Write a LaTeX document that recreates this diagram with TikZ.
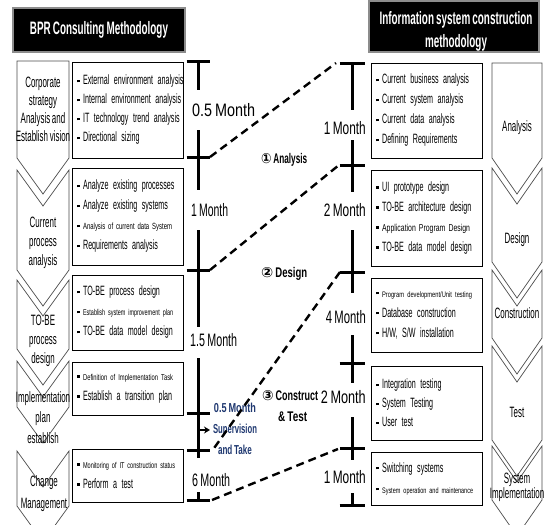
\documentclass[tikz,border=0pt]{standalone}
\usepackage{fontspec}
\usepackage{graphicx}
\setmainfont{Liberation Sans}[FakeStretch=0.53, WordSpace=0.75]
\newfontfamily\plainfont{Liberation Sans}
\newfontfamily\symfont{DejaVu Sans}[FakeStretch=0.8]
\usetikzlibrary{arrows.meta}
\definecolor{notenavy}{RGB}{31,56,112}
\hyphenpenalty=10000
\exhyphenpenalty=10000

% scale a piece of text horizontally to a given width (in pt)
\newcommand\fitw[2]{\resizebox{#1pt}{\height}{#2}}
% one bulleted line that never wraps
\newcommand\li[1]{\mbox{\raisebox{2.6pt}{\rule{2.6pt}{2.6pt}}\hspace{3.5pt}#1}}
% small, horizontally fitted text: width, size, text
\newcommand\smln[3]{\fitw{#1}{\plainfont\fontsize{#2}{#2}\selectfont #3}}
% chevron with a notched top: xl, xr, ytop, ybottom, depth
\newcommand\chevpath[5]{%
  \draw[chev] (#1,#3) -- ({(#1+#2)/2},{#3+#5}) -- (#2,#3) -- (#2,#4)
    -- ({(#1+#2)/2},{#4+#5}) -- (#1,#4) -- cycle;}
% chevron with a flat top
\newcommand\chevflat[5]{%
  \draw[chev] (#1,#3) -- (#2,#3) -- (#2,#4)
    -- ({(#1+#2)/2},{#4+#5}) -- (#1,#4) -- cycle;}

\begin{document}
\begin{tikzpicture}[x=1pt,y=-1pt,
  titlebox/.style={fill=black, draw=black!45, line width=1.2pt, inner sep=0pt},
  titletext/.style={text=white, inner sep=0pt, align=center,
    font=\bfseries\fontsize{18}{23}\selectfont},
  box/.style={draw=black, line width=0.9pt, fill=white, inner xsep=5pt,
    inner ysep=0pt, minimum width=111pt, text width=101pt, align=left,
    font=\fontsize{13.5}{20}\selectfont},
  chev/.style={draw=black!70, line width=0.7pt, fill=white},
  ctext/.style={align=center, inner sep=0pt, font=\fontsize{15}{19}\selectfont},
  tl/.style={line width=3pt, black},
  lbl/.style={inner sep=0pt, font=\fontsize{18}{18}\selectfont},
  dashln/.style={line width=2.4pt, dash pattern=on 8pt off 5pt},
  phase/.style={inner sep=0pt, anchor=west, font=\bfseries\fontsize{14}{14}\selectfont},
  note/.style={inner sep=0pt, align=center, text=notenavy,
    font=\bfseries\fontsize{13}{21}\selectfont}
]
\useasboundingbox (0,0) rectangle (547,525);

% ---------- titles ----------
\node[titlebox, minimum width=172pt, minimum height=44pt] (tL) at (99,30) {};
\node[titletext] (tLtxt) at (99,30) {\fitw{138}{BPR Consulting Methodology}};
\node[titlebox, minimum width=170pt, minimum height=51pt] (tR) at (454,26.5) {};
\node[titletext] (tRtxt) at (456,31.5)
  {\fitw{153}{Information system construction}\\\fitw{62}{methodology}};

% ---------- left chevrons ----------
\chevflat{17}{69}{61}{158}{36}
\chevpath{17}{69}{170}{270}{36}
\chevpath{17}{69}{280}{349}{36}
\chevpath{17}{69}{361}{407}{36}
\chevpath{17}{69}{451}{506}{36}
\node[ctext] (cL1) at (43,109.5) {Corporate\\[-1pt]strategy\\[-1pt]Analysis and\\[-1pt]Establish vision};
\node[ctext] (cL2) at (43,242.5) {Current\\process\\analysis};
\node[ctext] (cL3) at (43,341) {TO-BE\\process\\design};
\node[ctext] (cL4) at (43,417.5) {Implementation\\[1.5pt]plan\\[1.5pt]establish};
\node[ctext] (cL5) at (44,494) {Change\\[3pt]Management};

% ---------- right chevrons ----------
\chevflat{492}{542}{63}{158}{36}
\chevpath{492}{542}{168}{262}{36}
\chevpath{492}{542}{270}{338}{36}
\chevpath{492}{542}{346}{440}{36}
\chevpath{492}{542}{446}{500}{36}
\node[ctext] (cR1) at (517,128) {Analysis};
\node[ctext] (cR2) at (517,240) {Design};
\node[ctext] (cR3) at (517,313) {Construction};
\node[ctext] (cR4) at (517,412) {Test};
\node[ctext] (cR5) at (517,487.5) {System\\[-4pt]Implementation};

% ---------- left task boxes ----------
\node[box, minimum height=96pt] (bL1) at (127.5,110)
  {\li{External environment analysis}\\[-1pt]\li{Internal environment analysis}\\[-1pt]\li{IT technology trend analysis}\\[-1pt]\li{Directional sizing}};
\node[box, minimum height=97pt] (bL2) at (127.5,216.5)
  {\li{Analyze existing processes}\\\li{Analyze existing systems}\\\li{\smln{89}{9}{Analysis of current data System}}\\\li{Requirements analysis}};
\node[box, minimum height=75pt] (bL3) at (127.5,312.5)
  {\li{TO-BE process design}\\\li{\smln{90}{8.5}{Establish system improvement plan}}\\\li{TO-BE data model design}};
\node[box, minimum height=53pt] (bL4) at (127.5,388.5)
  {\li{\smln{90}{8.5}{Definition of Implementation Task}}\\\li{Establish a transition plan}};
\node[box, minimum height=53pt] (bL5) at (127.5,475.5)
  {\li{\smln{92}{8.5}{Monitoring of IT construction status}}\\\li{Perform a test}};

% ---------- right task boxes ----------
\node[box, minimum height=95pt] (bR1) at (426.5,110.5)
  {\li{Current business analysis}\\\li{Current system analysis}\\\li{Current data analysis}\\\li{Defining Requirements}};
\node[box, minimum height=96pt] (bR2) at (426.5,218)
  {\li{UI prototype design}\\\li{TO-BE architecture design}\\\li{\smln{88}{10}{Application Program Design}}\\\li{TO-BE data model design}};
\node[box, minimum height=74pt] (bR3) at (426.5,315)
  {\li{\smln{90}{8}{Program development/Unit testing}}\\\li{Database construction}\\\li{H/W, S/W installation}};
\node[box, minimum height=74pt] (bR4) at (426.5,403)
  {\li{Integration testing}\\[-1pt]\li{System Testing}\\[-1pt]\li{User test}};
\node[box, minimum height=53pt] (bR5) at (426.5,478.5)
  {\li{Switching systems}\\[1pt]\li{\smln{91}{8}{System operation and maintenance}}};

% ---------- left timeline ----------
\coordinate (l0) at (198,61);
\coordinate (l1) at (198,157);
\coordinate (l2) at (198,270);
\coordinate (l3) at (198,413);
\coordinate (l4) at (198,450);
\coordinate (l5) at (198,500);
\draw[tl] (l0) -- (198,90);
\draw[tl] (198,130) -- (198,190);
\draw[tl] (198,230) -- (198,327);
\draw[tl] (198,358) -- (198,458);
\draw[tl] (198,492) -- (l5);
\foreach \p in {l0,l1,l2,l3,l4,l5}
  \draw[tl] ([xshift=-11.5pt]\p) -- ([xshift=11.5pt]\p);
\node[lbl, anchor=west] (mL1) at (192,110) {\fitw{63}{0.5 Month}};
\node[lbl, anchor=west] (mL2) at (191,210) {\fitw{37}{1 Month}};
\node[lbl, anchor=west] (mL3) at (190,340) {\fitw{47}{1.5 Month}};
\node[lbl, anchor=west] (mL4) at (192,480) {\fitw{38}{6 Month}};

% ---------- right timeline ----------
\coordinate (r0) at (352,63);
\coordinate (r1) at (352,165);
\coordinate (r2) at (352,272);
\coordinate (r3) at (352,363);
\coordinate (r4) at (352,448);
\coordinate (r5) at (352,505);
\draw[tl] (r0) -- (352,110);
\draw[tl] (352,140) -- (352,192);
\draw[tl] (352,230) -- (352,293);
\draw[tl] (352,335) -- (352,383);
\draw[tl] (352,417) -- (352,460);
\draw[tl] (352,493) -- (r5);
\foreach \p in {r0,r1,r2,r3,r4,r5}
  \draw[tl] ([xshift=-12.5pt]\p) -- ([xshift=12.5pt]\p);
\node[lbl, anchor=east] (mR1) at (366,128) {\fitw{42}{1 Month}};
\node[lbl, anchor=east] (mR2) at (366,210) {\fitw{42}{2 Month}};
\node[lbl, anchor=east] (mR3) at (366,317) {\fitw{40}{4 Month}};
\node[lbl, anchor=east] (mR4) at (366,397) {\fitw{45}{2 Month}};
\node[lbl, anchor=east] (mR5) at (366,477) {\fitw{42}{1 Month}};

% ---------- phase names ----------
\node[phase] (ph1) at (261,160) {\fitw{46}{{\symfont ①} Analysis}};
\node[phase] (ph2) at (261,274) {\fitw{46}{{\symfont ②} Design}};
\node[phase] (ph3) at (262,396) {\fitw{56}{{\symfont ③} Construct}};
\node[phase] (ph3b) at (278,417) {\fitw{29}{\& Test}};

% ---------- supervision note ----------
\node[note] (sup) at (235,429)
  {\fitw{42}{0.5 Month}\\\fitw{44}{Supervision}\\\fitw{34}{and Take}};

% ---------- phase links ----------
\coordinate (l1e) at (210,157);
\coordinate (r0w) at (336,63);
\coordinate (l2e) at (210,270);
\coordinate (r1w) at (339,165);
\coordinate (r2w) at (340,272);
\coordinate (l4e) at (212,451);
\coordinate (l5e) at (212,500);
\coordinate (r4w) at (338,449);
\draw[dashln] (l1e) -- (r0w);
\draw[dashln] (l2e) -- (r1w);
\draw[dashln] (r2w) -- (l4e);
\draw[dashln] (l5e) -- (r4w);

% pointer towards the supervision note
\coordinate (aS) at (199,430);
\coordinate (aE) at (210,430);
\draw[line width=1.6pt, -{Stealth[length=6pt,width=7pt]}] (aS) -- (aE);
\end{tikzpicture}
\end{document}
